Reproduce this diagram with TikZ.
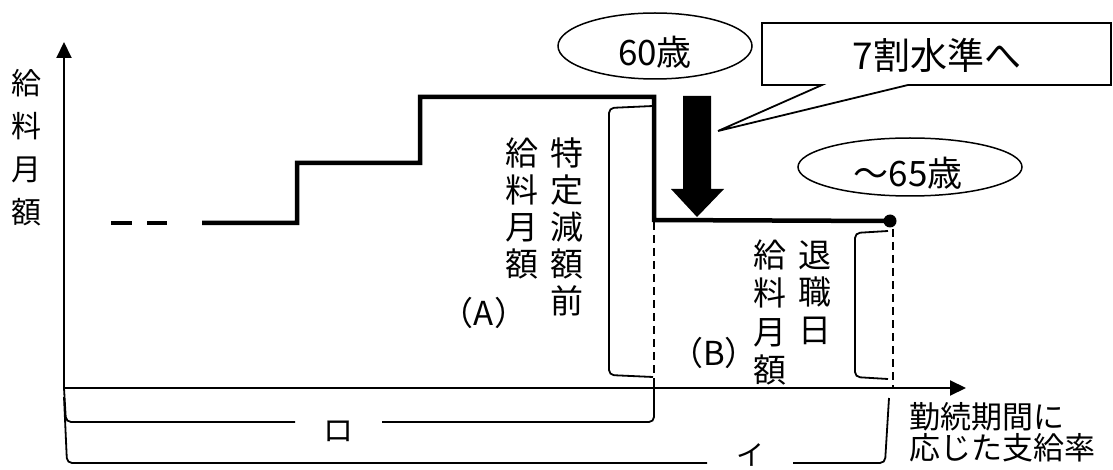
\documentclass[tikz,border=0pt]{standalone}
\usepackage{fontspec}
\setmainfont{Noto Sans CJK JP}
\usetikzlibrary{arrows.meta,shapes.geometric}
\begin{document}
\begin{tikzpicture}[x=1pt,y=-1pt,
  salary/.style={line width=4.5pt,line join=miter},
  axisline/.style={line width=2pt,-{Triangle[length=16pt,width=15pt]}},
  brk/.style={line width=1.8pt,rounded corners=5pt},
  guide/.style={line width=1.6pt,dash pattern=on 8pt off 5pt},
  vlab/.style={align=center,inner sep=0pt,font=\fontsize{33}{37}\selectfont},
  lab/.style={inner sep=0pt,font=\fontsize{33}{37}\selectfont},
  bubble/.style={ellipse,draw,line width=1.5pt,inner sep=0pt},
  bubtext/.style={inner sep=0pt,font=\fontsize{35}{35}\selectfont}
]
\useasboundingbox (0,0) rectangle (1113,470);
\clip (0,0) rectangle (1113,470);

% axes
\coordinate (O) at (64,388);
\coordinate (Ytip) at (64,42);
\coordinate (Xtip) at (966,388);
\draw[axisline] (O) -- (Ytip);
\draw[axisline] (O) -- (Xtip);

% axis labels
\node[vlab,font=\fontsize{30}{43}\selectfont] (ylab) at (27,147.5) {給\\料\\月\\額};
\node[align=left,anchor=west,inner sep=0pt,font=\fontsize{31}{31}\selectfont] (xlab) at (909,432.5) {勤続期間に\\応じた支給率};

% salary line
\draw[salary] (111,223) -- (132,223);
\draw[salary] (147,223) -- (167,223);
\coordinate (D) at (890,221);
\draw[salary] (202,223) -| (297,163) -| (420,97) -| (654,220) -- (D);
\fill (D) circle (6.5);

% guide lines
\draw[guide] (654,222) -- (654,388);
\draw[guide] (893,229) -- (893,388);

% brackets A and B
\draw[brk] (653,106) -- (609,108) -- (609,375) -- (653,377);
\draw[brk] (888,231) -- (855,233) -- (855,377) -- (888,379);

% labels A
\node[vlab] (tokutei) at (567,227) {特\\定\\減\\額\\前};
\node[vlab] (kyuA) at (522,208) {給\\料\\月\\額};
\node[lab] (A) at (484,313) {（A）};

% labels B
\node[vlab,font=\fontsize{33}{37.5}\selectfont] (taishoku) at (815,292.5) {退\\職\\日};
\node[vlab,font=\fontsize{33}{38.3}\selectfont] (kyuB) at (770,312.5) {給\\料\\月\\額};
\node[lab] (B) at (714,353) {（B）};

% bottom brackets
\node[inner sep=0pt,font=\fontsize{30}{30}\selectfont] (ro) at (338,431) {ロ};
\draw[brk] (O) -- (66,422) -- (295,422);
\draw[brk] (382,422) -- (654,422) -- (654,386);
\node[inner sep=0pt,font=\fontsize{28}{28}\selectfont] (i) at (750,455) {イ};
\draw[brk] (64,397) -- (67,463) -- (707,463);
\draw[brk] (793,463) -- (885,463) -- (889,398);

% big arrow
\fill (683,96) -- (711,96) -- (711,189) -- (724,189) -- (697,217) -- (671,189) -- (683,189) -- cycle;

% callout
\coordinate (tip) at (718,131);
\draw[line width=1.8pt,line join=miter] (762,23) -- (1111,23) -- (1111,85) -- (908,85) -- (tip) -- (822,85) -- (762,85) -- cycle;
\node[inner sep=0pt,font=\fontsize{37}{37}\selectfont] (seven) at (937,55) {7割水準へ};

% bubbles
\node[bubble,minimum width=194pt,minimum height=66pt] (e60) at (655,46) {};
\node[bubtext] (t60) at (655,52) {60歳};
\node[bubble,minimum width=224pt,minimum height=58pt] (e65) at (910,167) {};
\node[bubtext] (t65) at (908,173) {～65歳};
\end{tikzpicture}
\end{document}
